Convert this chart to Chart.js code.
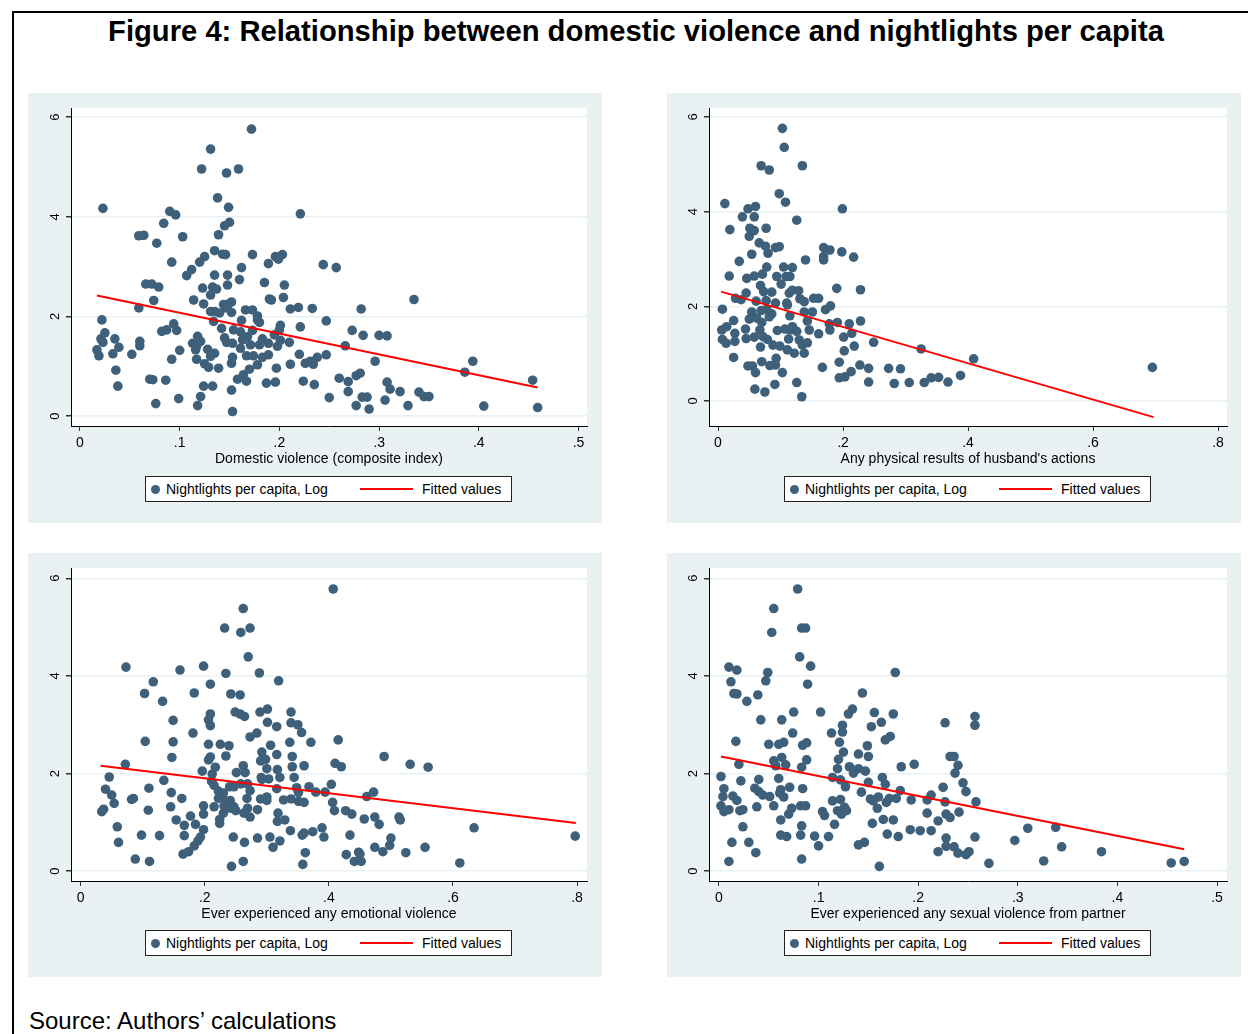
<!DOCTYPE html>
<html>
<head>
<meta charset="utf-8">
<script src="https://cdn.jsdelivr.net/npm/chart.js@4.4.1/dist/chart.umd.min.js"></script>
<style>
  body { margin: 0; background: #fff; font-family: Arial, "Liberation Sans", sans-serif; }
  #page { position: relative; width: 1248px; height: 1034px; overflow: hidden; }
  #frame { position: absolute; left: 12px; top: 11px; width: 1300px; height: 1100px; border-left: 2px solid #000; border-top: 2px solid #000; }
  h1 { position: absolute; left: 12px; width: 1248px; top: 15px; margin: 0; text-align: center; font-size: 29.2px; font-weight: bold; color: #000; }
  .panel { position: absolute; background: rgb(234, 241, 243); }
  .panel canvas { position: absolute; left: 0; top: 0; }
  .legend { position: absolute; width: 365px; height: 24px; background: #fff; border: 1px solid #222; font-size: 14px; color: #000; }
  .legend .dot { position: absolute; left: 5px; top: 8px; width: 9px; height: 9px; border-radius: 50%; background: #3e607a; }
  .legend .line { position: absolute; left: 214px; top: 11px; width: 53px; height: 2px; background: #ff0000; }
  .legend span { position: absolute; top: 4px; white-space: nowrap; }
  #source { position: absolute; left: 29px; top: 1007px; font-size: 24px; color: #000; }
</style>
</head>
<body>
<div id="page">
  <div id="frame"></div>
  <h1>Figure 4: Relationship between domestic violence and nightlights per capita</h1>
  <div class="panel" style="left:28px; top:93px; width:574px; height:430px;"><canvas id="c1" width="574" height="430"></canvas></div>
  <div class="panel" style="left:667px; top:93px; width:574px; height:430px;"><canvas id="c2" width="574" height="430"></canvas></div>
  <div class="panel" style="left:28px; top:553px; width:574px; height:424px;"><canvas id="c3" width="574" height="424"></canvas></div>
  <div class="panel" style="left:667px; top:553px; width:574px; height:424px;"><canvas id="c4" width="574" height="424"></canvas></div>
  <div id="source">Source: Authors’ calculations</div>
</div>
<script>
// DATA
const xTicksHalf = [0, 0.1, 0.2, 0.3, 0.4, 0.5];
const xTicksEight = [0, 0.2, 0.4, 0.6, 0.8];
const yTicks = [0, 2, 4, 6];
const legendLabels = ["Nightlights per capita, Log", "Fitted values"];

// composite index
const domesticPts = [[0.172,5.76],[0.131,5.36],[0.122,4.96],[0.147,4.88],[0.159,4.96],[0.138,4.38],[0.149,4.19],[0.023,4.17],[0.090,4.11],[0.096,4.04],[0.221,4.06],[0.150,3.89],[0.145,3.82],[0.084,3.87],[0.059,3.62],[0.064,3.63],[0.103,3.60],[0.139,3.64],[0.077,3.47],[0.135,3.32],[0.143,3.25],[0.146,3.24],[0.125,3.20],[0.173,3.24],[0.196,3.20],[0.203,3.24],[0.199,3.15],[0.120,3.09],[0.092,3.09],[0.189,3.06],[0.162,2.98],[0.112,2.94],[0.107,2.82],[0.135,2.83],[0.148,2.83],[0.244,3.04],[0.160,2.74],[0.066,2.65],[0.072,2.65],[0.079,2.59],[0.148,2.63],[0.185,2.68],[0.205,2.63],[0.123,2.57],[0.133,2.59],[0.137,2.55],[0.131,2.43],[0.074,2.32],[0.114,2.33],[0.124,2.25],[0.190,2.35],[0.192,2.33],[0.204,2.38],[0.059,2.17],[0.144,2.24],[0.149,2.25],[0.152,2.29],[0.146,2.17],[0.152,2.08],[0.131,2.10],[0.135,2.10],[0.140,2.07],[0.166,2.13],[0.173,2.13],[0.178,2.01],[0.211,2.15],[0.219,2.18],[0.233,2.16],[0.247,1.91],[0.022,1.93],[0.134,1.90],[0.162,1.92],[0.178,1.93],[0.180,1.88],[0.094,1.85],[0.097,1.72],[0.082,1.70],[0.087,1.73],[0.142,1.76],[0.154,1.73],[0.161,1.69],[0.173,1.72],[0.201,1.82],[0.200,1.73],[0.221,1.79],[0.025,1.67],[0.021,1.55],[0.035,1.55],[0.023,1.48],[0.039,1.38],[0.060,1.50],[0.060,1.41],[0.017,1.33],[0.019,1.21],[0.033,1.25],[0.052,1.24],[0.100,1.32],[0.092,1.14],[0.118,1.60],[0.113,1.46],[0.117,1.40],[0.121,1.50],[0.116,1.33],[0.128,1.34],[0.135,1.26],[0.131,1.20],[0.117,1.14],[0.125,1.05],[0.129,0.98],[0.139,0.96],[0.145,1.57],[0.147,1.48],[0.153,1.46],[0.161,1.36],[0.163,1.53],[0.168,1.59],[0.171,1.43],[0.180,1.43],[0.183,1.55],[0.189,1.46],[0.195,1.63],[0.198,1.40],[0.201,1.52],[0.210,1.48],[0.167,1.21],[0.174,1.21],[0.183,1.18],[0.189,1.23],[0.153,1.18],[0.152,1.06],[0.178,1.03],[0.197,0.96],[0.211,1.04],[0.220,1.24],[0.226,1.06],[0.231,1.10],[0.234,1.04],[0.238,1.18],[0.247,1.23],[0.036,0.92],[0.038,0.60],[0.070,0.74],[0.073,0.73],[0.086,0.72],[0.099,0.35],[0.076,0.25],[0.118,0.21],[0.121,0.39],[0.124,0.60],[0.133,0.60],[0.152,0.52],[0.153,0.09],[0.158,0.74],[0.164,0.83],[0.167,0.70],[0.170,0.94],[0.187,0.66],[0.196,0.68],[0.224,0.70],[0.235,0.63],[0.250,0.37],[0.257,2.98],[0.335,2.34],[0.282,2.15],[0.273,1.72],[0.284,1.62],[0.300,1.62],[0.308,1.61],[0.266,1.41],[0.296,1.10],[0.386,0.88],[0.394,1.10],[0.454,0.72],[0.277,0.81],[0.281,0.86],[0.260,0.76],[0.269,0.69],[0.269,0.49],[0.277,0.21],[0.283,0.38],[0.288,0.38],[0.290,0.14],[0.306,0.32],[0.308,0.68],[0.311,0.54],[0.321,0.49],[0.329,0.21],[0.340,0.48],[0.345,0.39],[0.350,0.39],[0.405,0.20],[0.459,0.17]];
const domesticFit = [[0.017, 2.42], [0.459, 0.575]];

// physical results
const physicalPts = [[0.103,5.76],[0.106,5.36],[0.069,4.97],[0.082,4.88],[0.135,4.97],[0.098,4.38],[0.108,4.20],[0.011,4.17],[0.199,4.06],[0.048,4.06],[0.060,4.11],[0.039,3.89],[0.058,3.89],[0.126,3.82],[0.019,3.62],[0.051,3.65],[0.058,3.60],[0.050,3.48],[0.077,3.65],[0.066,3.34],[0.076,3.27],[0.080,3.12],[0.092,3.24],[0.098,3.26],[0.169,3.24],[0.179,3.19],[0.169,3.05],[0.169,2.98],[0.198,3.15],[0.217,3.04],[0.054,3.10],[0.034,2.95],[0.140,2.98],[0.078,2.83],[0.105,2.83],[0.119,2.82],[0.018,2.64],[0.046,2.59],[0.058,2.64],[0.071,2.68],[0.094,2.63],[0.109,2.63],[0.115,2.63],[0.068,2.44],[0.073,2.31],[0.086,2.30],[0.101,2.47],[0.114,2.28],[0.119,2.34],[0.129,2.33],[0.190,2.38],[0.228,2.35],[0.028,2.17],[0.037,2.14],[0.045,2.28],[0.061,2.11],[0.077,2.12],[0.092,2.07],[0.110,2.07],[0.131,2.16],[0.138,2.10],[0.153,2.17],[0.161,2.17],[0.007,1.94],[0.054,1.88],[0.069,1.91],[0.078,1.94],[0.086,1.84],[0.111,2.03],[0.115,1.80],[0.138,1.88],[0.151,1.88],[0.172,1.93],[0.180,2.01],[0.025,1.70],[0.050,1.73],[0.062,1.75],[0.070,1.66],[0.082,1.78],[0.143,1.69],[0.178,1.63],[0.191,1.66],[0.210,1.63],[0.228,1.69],[0.006,1.50],[0.014,1.57],[0.007,1.30],[0.013,1.22],[0.027,1.43],[0.027,1.26],[0.044,1.52],[0.045,1.32],[0.058,1.35],[0.067,1.50],[0.072,1.36],[0.068,1.14],[0.079,1.30],[0.088,1.18],[0.095,1.49],[0.099,1.16],[0.107,1.52],[0.113,1.31],[0.115,1.50],[0.119,1.57],[0.126,1.47],[0.130,1.29],[0.111,1.08],[0.122,1.01],[0.135,1.18],[0.138,1.01],[0.143,1.23],[0.146,1.50],[0.161,1.42],[0.179,1.50],[0.201,1.35],[0.214,1.43],[0.218,1.16],[0.202,1.06],[0.249,1.24],[0.025,0.92],[0.048,0.74],[0.055,0.74],[0.060,0.60],[0.070,0.83],[0.083,0.75],[0.093,0.90],[0.092,0.76],[0.103,0.60],[0.167,0.71],[0.194,0.82],[0.194,0.49],[0.203,0.51],[0.213,0.62],[0.227,0.76],[0.241,0.69],[0.241,0.40],[0.273,0.69],[0.059,0.25],[0.075,0.19],[0.091,0.35],[0.126,0.39],[0.134,0.09],[0.282,0.37],[0.292,0.68],[0.306,0.39],[0.325,1.10],[0.330,0.39],[0.341,0.49],[0.353,0.50],[0.368,0.40],[0.388,0.54],[0.409,0.89],[0.695,0.71]];
const physicalFit = [[0.005, 2.31], [0.697, -0.34]];

// emotional violence
const emotionalPts = [[0.262,5.38],[0.232,4.98],[0.258,4.89],[0.273,4.98],[0.270,4.39],[0.073,4.18],[0.160,4.12],[0.198,4.20],[0.234,4.05],[0.288,4.06],[0.117,3.88],[0.319,3.90],[0.209,3.83],[0.103,3.64],[0.183,3.65],[0.242,3.63],[0.257,3.61],[0.132,3.48],[0.149,3.09],[0.209,3.22],[0.206,3.10],[0.209,2.98],[0.249,3.26],[0.257,3.22],[0.264,3.17],[0.289,3.26],[0.301,3.32],[0.301,3.05],[0.316,2.96],[0.339,3.26],[0.339,3.04],[0.350,3.00],[0.356,2.84],[0.181,2.83],[0.104,2.66],[0.149,2.65],[0.206,2.60],[0.225,2.60],[0.239,2.57],[0.273,2.75],[0.284,2.83],[0.306,2.58],[0.337,2.64],[0.371,2.64],[0.147,2.33],[0.206,2.28],[0.209,2.34],[0.234,2.36],[0.292,2.44],[0.290,2.26],[0.298,2.29],[0.316,2.39],[0.341,2.35],[0.072,2.19],[0.217,2.13],[0.212,1.99],[0.196,2.05],[0.251,2.02],[0.262,2.16],[0.265,2.02],[0.300,2.10],[0.317,2.08],[0.341,2.14],[0.360,2.16],[0.046,1.93],[0.134,1.86],[0.211,1.84],[0.291,1.92],[0.292,1.88],[0.303,1.89],[0.321,1.92],[0.344,1.92],[0.040,1.68],[0.050,1.56],[0.054,1.39],[0.110,1.70],[0.146,1.61],[0.163,1.49],[0.215,1.76],[0.222,1.64],[0.230,1.60],[0.240,1.73],[0.247,1.73],[0.258,1.79],[0.269,1.79],[0.273,1.65],[0.268,1.49],[0.316,1.69],[0.348,1.71],[0.368,1.73],[0.379,1.62],[0.394,1.62],[0.082,1.47],[0.085,1.49],[0.034,1.22],[0.037,1.27],[0.109,1.25],[0.145,1.32],[0.198,1.34],[0.198,1.17],[0.215,1.32],[0.222,1.49],[0.231,1.34],[0.235,1.43],[0.241,1.45],[0.230,1.19],[0.242,1.29],[0.247,1.32],[0.250,1.24],[0.224,1.06],[0.224,0.98],[0.263,1.19],[0.269,1.29],[0.273,1.11],[0.285,1.26],[0.290,1.48],[0.300,1.52],[0.300,1.45],[0.318,1.19],[0.317,1.02],[0.329,1.05],[0.327,1.46],[0.339,1.48],[0.351,1.61],[0.351,1.43],[0.360,1.41],[0.154,1.05],[0.167,0.94],[0.177,1.13],[0.185,0.96],[0.198,0.85],[0.193,0.70],[0.189,0.62],[0.183,0.52],[0.059,0.91],[0.061,0.59],[0.098,0.74],[0.127,0.73],[0.167,0.73],[0.174,0.40],[0.165,0.35],[0.088,0.25],[0.111,0.20],[0.243,0.10],[0.246,0.70],[0.264,0.59],[0.262,0.20],[0.285,0.68],[0.305,0.70],[0.310,0.49],[0.321,0.62],[0.338,0.83],[0.357,0.74],[0.360,0.78],[0.374,0.81],[0.389,0.89],[0.392,0.70],[0.362,0.38],[0.358,0.14],[0.407,5.78],[0.415,2.69],[0.410,2.21],[0.420,2.14],[0.489,2.35],[0.531,2.19],[0.560,2.13],[0.404,1.78],[0.472,1.62],[0.461,1.53],[0.406,1.41],[0.409,1.24],[0.427,1.24],[0.437,1.17],[0.457,1.07],[0.474,1.11],[0.481,0.96],[0.513,1.11],[0.515,1.05],[0.434,0.74],[0.500,0.68],[0.498,0.53],[0.474,0.49],[0.487,0.40],[0.448,0.39],[0.450,0.35],[0.428,0.34],[0.441,0.20],[0.452,0.20],[0.524,0.38],[0.555,0.49],[0.611,0.17],[0.634,0.89],[0.797,0.72]];
const emotionalFit = [[0.032, 2.16], [0.798, 0.99]];

// sexual violence
const sexualPts = [[0.079,5.78],[0.055,5.38],[0.053,4.89],[0.083,4.98],[0.087,4.98],[0.081,4.39],[0.092,4.20],[0.010,4.18],[0.018,4.12],[0.049,4.07],[0.177,4.07],[0.012,3.88],[0.047,3.90],[0.089,3.83],[0.015,3.64],[0.018,3.63],[0.039,3.61],[0.144,3.65],[0.028,3.48],[0.134,3.32],[0.130,3.22],[0.156,3.25],[0.175,3.22],[0.075,3.26],[0.102,3.26],[0.063,3.10],[0.042,3.10],[0.124,2.99],[0.153,2.96],[0.163,3.05],[0.227,3.04],[0.074,2.83],[0.113,2.83],[0.124,2.85],[0.017,2.66],[0.050,2.60],[0.060,2.60],[0.065,2.64],[0.084,2.58],[0.088,2.63],[0.121,2.64],[0.125,2.44],[0.149,2.57],[0.167,2.69],[0.172,2.76],[0.063,2.33],[0.055,2.26],[0.057,2.16],[0.067,2.18],[0.088,2.28],[0.083,2.13],[0.120,2.29],[0.140,2.40],[0.150,2.35],[0.020,2.19],[0.183,2.14],[0.196,2.19],[0.232,2.35],[0.131,2.14],[0.135,2.01],[0.140,2.10],[0.147,2.05],[0.119,2.10],[0.114,1.92],[0.002,1.94],[0.022,1.85],[0.040,1.88],[0.060,1.90],[0.122,1.87],[0.127,1.73],[0.150,1.82],[0.164,1.92],[0.167,1.78],[0.005,1.69],[0.036,1.70],[0.040,1.63],[0.044,1.56],[0.051,1.53],[0.062,1.67],[0.071,1.72],[0.065,1.52],[0.061,1.60],[0.084,1.69],[0.143,1.62],[0.182,1.65],[0.225,1.72],[0.014,1.54],[0.018,1.45],[0.004,1.53],[0.002,1.34],[0.005,1.22],[0.010,1.26],[0.021,1.24],[0.024,1.26],[0.038,1.32],[0.055,1.34],[0.073,1.29],[0.070,1.17],[0.082,1.34],[0.087,1.34],[0.114,1.44],[0.122,1.47],[0.104,1.22],[0.106,1.14],[0.119,1.24],[0.126,1.31],[0.123,1.17],[0.128,1.24],[0.116,0.96],[0.152,1.48],[0.155,1.44],[0.160,1.52],[0.159,1.29],[0.168,1.41],[0.171,1.49],[0.178,1.49],[0.193,1.46],[0.209,1.46],[0.213,1.56],[0.209,1.19],[0.220,1.03],[0.228,1.17],[0.024,0.91],[0.013,0.59],[0.030,0.59],[0.037,0.38],[0.010,0.20],[0.062,1.05],[0.062,0.74],[0.068,0.71],[0.083,0.93],[0.082,0.74],[0.083,0.25],[0.096,0.72],[0.100,0.52],[0.110,0.71],[0.154,0.98],[0.165,1.06],[0.175,1.05],[0.169,0.76],[0.180,0.71],[0.192,0.85],[0.202,0.83],[0.213,0.83],[0.220,0.40],[0.228,0.68],[0.228,0.51],[0.140,0.54],[0.146,0.59],[0.161,0.10],[0.257,3.17],[0.257,2.99],[0.236,2.35],[0.240,2.17],[0.237,2.01],[0.245,1.81],[0.248,1.63],[0.258,1.42],[0.227,1.42],[0.232,1.10],[0.241,1.21],[0.236,0.50],[0.240,0.37],[0.248,0.34],[0.251,0.40],[0.257,0.70],[0.271,0.16],[0.297,0.63],[0.310,0.88],[0.326,0.21],[0.338,0.90],[0.344,0.50],[0.384,0.40],[0.454,0.17],[0.467,0.20]];
const sexualFit = [[0.002, 2.35], [0.467, 0.45]];

const xTitles = [
  "Domestic violence (composite index)",
  "Any physical results of husband's actions",
  "Ever experienced any emotional violence",
  "Ever experienced any sexual violence from partner"
];

const dotColor = "#3e607a";
const lineColor = "#ff0000";
const gridColor = "rgb(234, 241, 243)";
const fontFamily = "Arial, 'Liberation Sans', sans-serif";

// white plot region
const plotFill = {
  id: "plotFill",
  beforeDraw(chart) {
    const { ctx, chartArea: a } = chart;
    ctx.save();
    ctx.fillStyle = "#fff";
    ctx.fillRect(a.left, a.top, a.right - a.left, a.bottom - a.top);
    ctx.restore();
  }
};

function fmtTick(v) {
  if (v === 0) return "0";
  return String(Math.round(v * 10) / 10).replace(/^0/, "");
}

// BUILD ONE PANEL
function buildPanel(cfg) {
  const ctx = document.getElementById(cfg.id).getContext("2d");
  new Chart(ctx, {
    type: "scatter",
    data: {
      datasets: [
        {
          label: legendLabels[1],
          data: cfg.fit.map(([x, y]) => ({ x, y })),
          showLine: true,
          borderColor: lineColor,
          borderWidth: 2,
          pointRadius: 0,
          order: 0
        },
        {
          label: legendLabels[0],
          data: cfg.pts.map(([x, y]) => ({ x, y })),
          backgroundColor: dotColor,
          borderWidth: 0,
          pointRadius: 4.8,
          order: 1
        }
      ]
    },
    options: {
      responsive: false,
      animation: false,
      events: [],
      layout: { padding: { left: 0, top: 15, right: cfg.right, bottom: cfg.bottom } },
      plugins: { legend: { display: false }, tooltip: { enabled: false } },
      scales: {
        x: {
          type: "linear",
          min: cfg.xr[0],
          max: cfg.xr[1],
          afterBuildTicks: (axis) => { axis.ticks = cfg.xTicks.map((v) => ({ value: v })); },
          afterFit: (axis) => { axis.height = 42; },
          grid: { drawOnChartArea: false, color: "#333", tickLength: 5 },
          border: { color: "#000", width: 1 },
          ticks: { callback: fmtTick, padding: 4, color: "#000", font: { family: fontFamily, size: 14 }, maxRotation: 0 },
          title: { display: true, text: cfg.title, color: "#000", padding: 0, font: { family: fontFamily, size: 14 } }
        },
        y: {
          min: cfg.yr[0],
          max: cfg.yr[1],
          afterBuildTicks: (axis) => { axis.ticks = yTicks.map((v) => ({ value: v })); },
          afterFit: (axis) => { axis.width = cfg.yw; },
          grid: { color: gridColor, tickColor: "#333", tickLength: 5, lineWidth: 1.5 },
          border: { color: "#000", width: 1 },
          ticks: { minRotation: 90, maxRotation: 90, crossAlign: "center", padding: 7, color: "#000", font: { family: fontFamily, size: 13 } }
        }
      }
    },
    plugins: [plotFill]
  });

  // legend box under the plot
  const box = document.createElement("div");
  box.className = "legend";
  box.style.left = "117px";
  box.style.top = cfg.legendTop + "px";
  box.innerHTML =
    '<div class="dot"></div><span style="left:20px">' + legendLabels[0] + "</span>" +
    '<div class="line"></div><span style="left:276px">' + legendLabels[1] + "</span>";
  document.getElementById(cfg.id).parentNode.appendChild(box);
}

buildPanel({ id: "c1", pts: domesticPts, fit: domesticFit, xTicks: xTicksHalf, title: xTitles[0], xr: [-0.009, 0.5085], yr: [-0.2, 6.185], yw: 43, right: 15, bottom: 55, legendTop: 383 });
buildPanel({ id: "c2", pts: physicalPts, fit: physicalFit, xTicks: xTicksEight, title: xTitles[1], xr: [-0.0144, 0.8144], yr: [-0.528, 6.19], yw: 42, right: 14, bottom: 55, legendTop: 383 });
buildPanel({ id: "c3", pts: emotionalPts, fit: emotionalFit, xTicks: xTicksEight, title: xTitles[2], xr: [-0.0156, 0.816], yr: [-0.2, 6.21], yw: 43, right: 15, bottom: 54, legendTop: 377 });
buildPanel({ id: "c4", pts: sexualPts, fit: sexualFit, xTicks: xTicksHalf, title: xTitles[3], xr: [-0.010, 0.510], yr: [-0.2, 6.21], yw: 42, right: 14, bottom: 54, legendTop: 377 });
</script>
</body>
</html>
